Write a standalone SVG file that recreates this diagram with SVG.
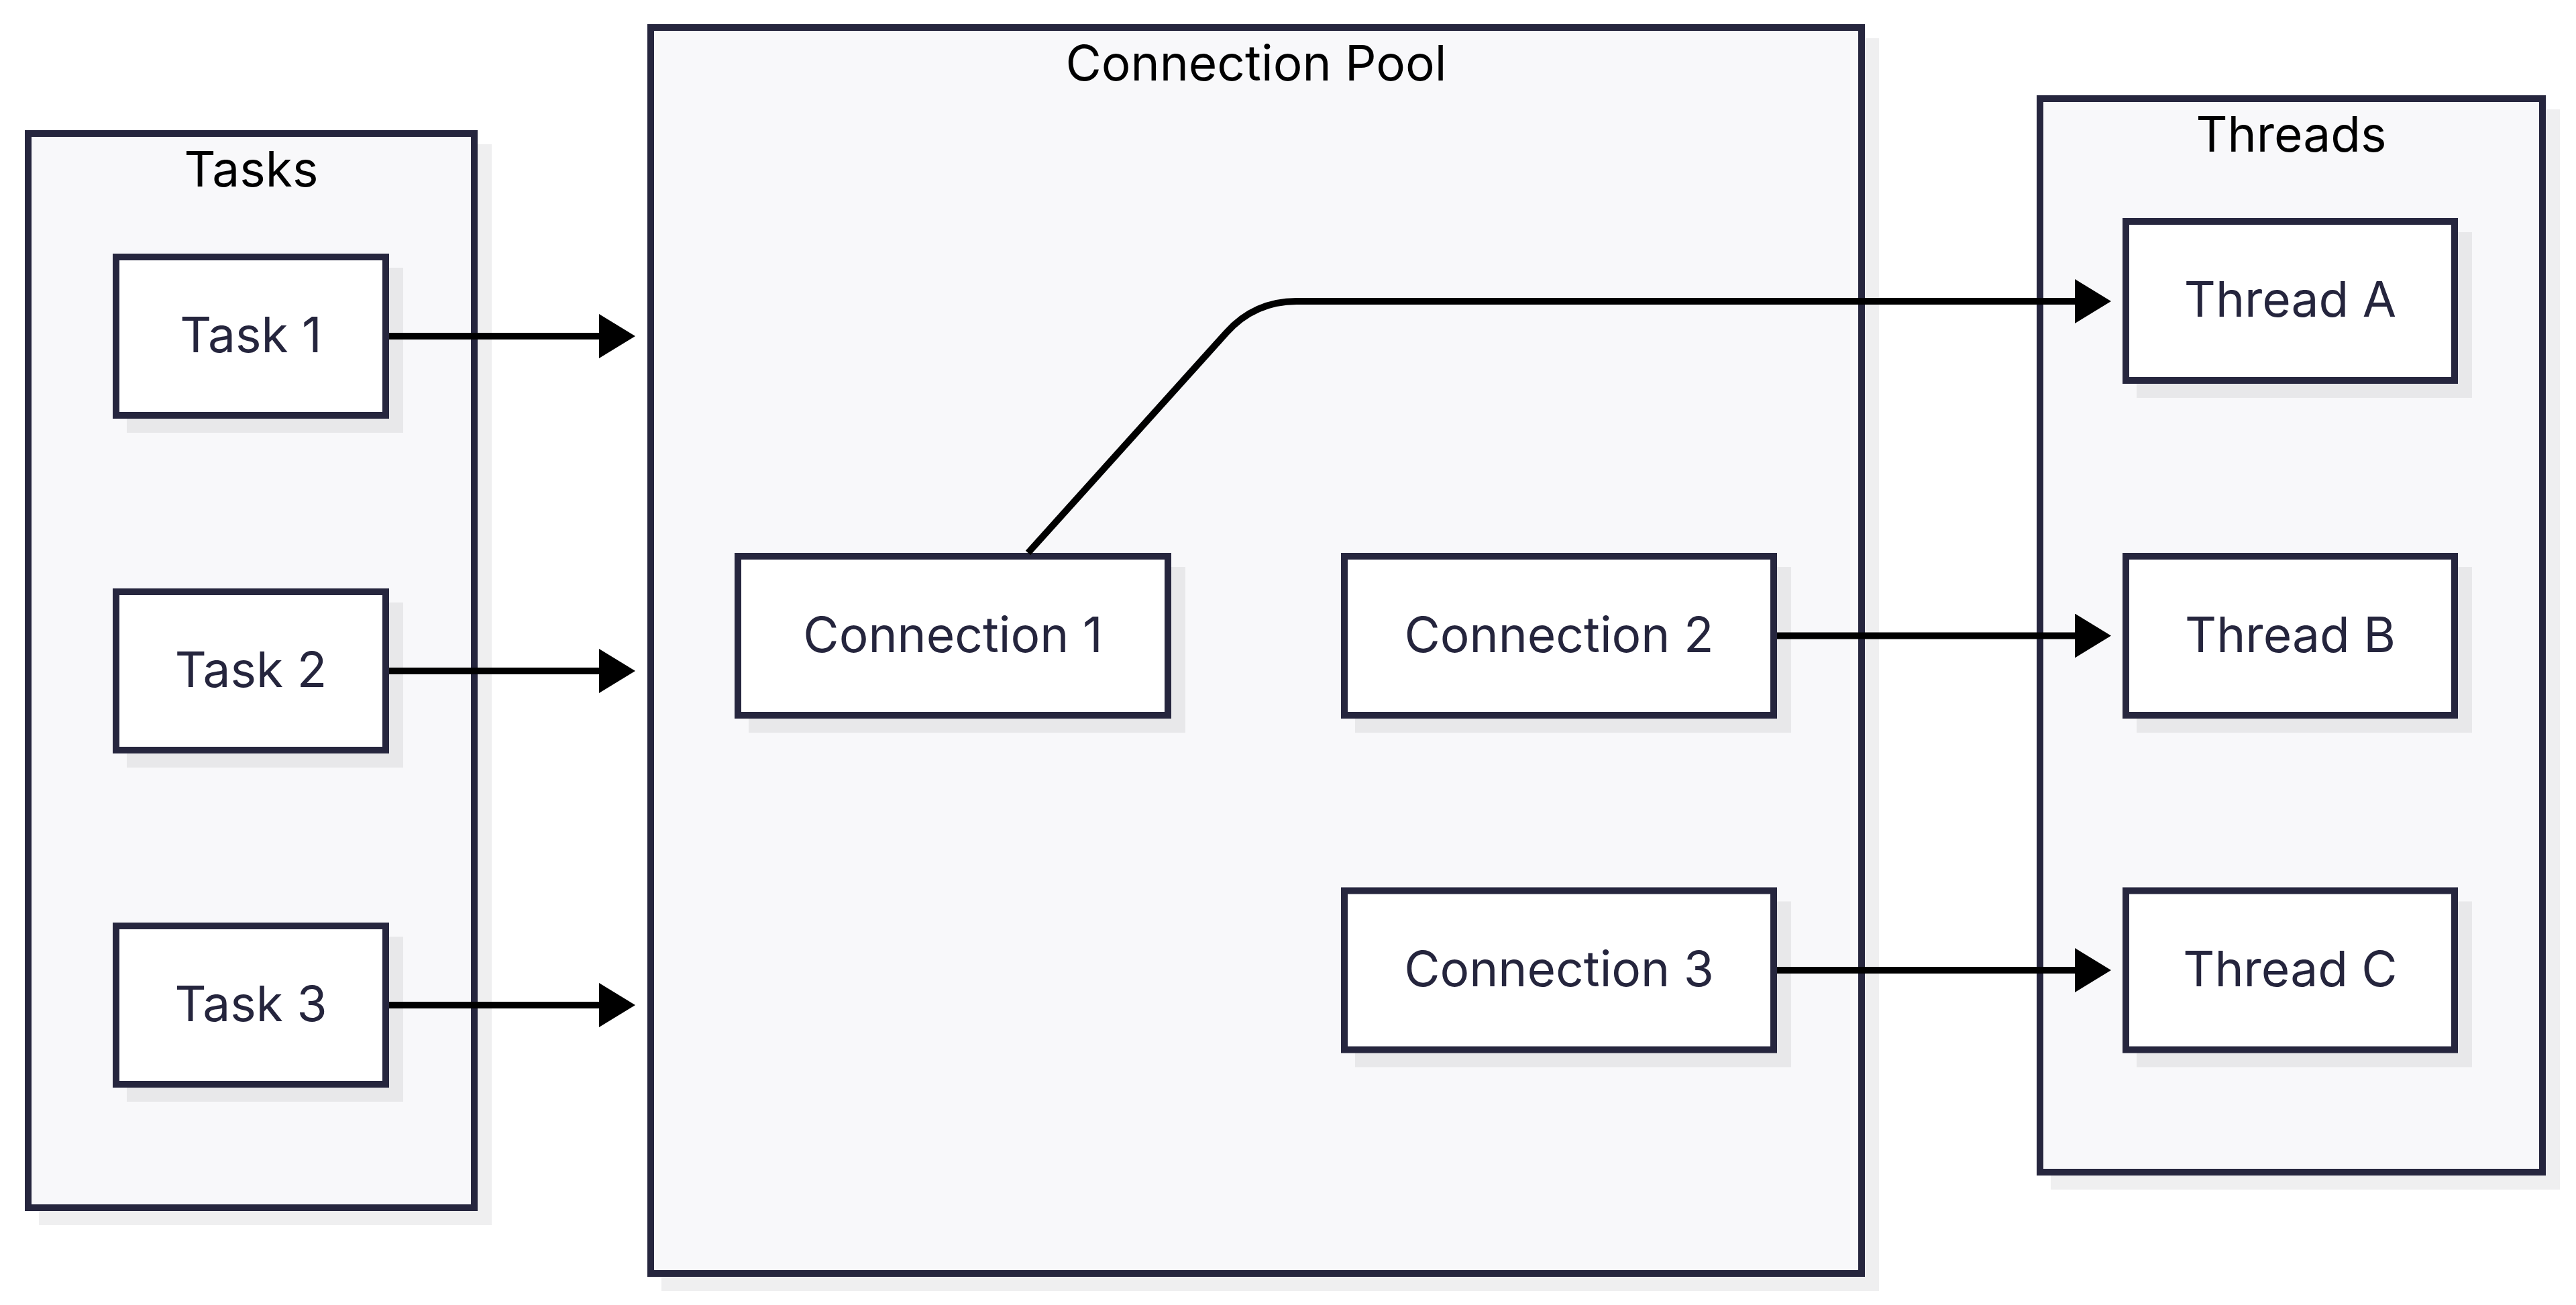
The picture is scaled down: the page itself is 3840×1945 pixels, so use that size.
<svg xmlns="http://www.w3.org/2000/svg" width="3840" height="1945" viewBox="0 0 3840 1945">
<style>
.bg{fill:#ffffff}
.cshadow{fill:#efeff0}
.container{fill:#f8f8fa;stroke:#26263e;stroke-width:10}
.nshadow{fill:#e8e8ea}
.node{fill:#ffffff;stroke:#26263e;stroke-width:10}
.title{font-family:Inter,"Noto Sans","Liberation Sans",sans-serif;font-size:73px;fill:#000000;text-anchor:middle}
.label{font-family:Inter,"Noto Sans","Liberation Sans",sans-serif;font-size:73px;fill:#25253d;text-anchor:middle}
.edge{fill:none;stroke:#000000;stroke-width:10;marker-end:url(#arrow)}
</style>
<defs>
<marker id="arrow" markerUnits="userSpaceOnUse" viewBox="0 0 54 66" markerWidth="54" markerHeight="66" refX="0" refY="33" orient="auto">
<path d="M0,0 L54,33 L0,66 Z" fill="#000000"/>
</marker>
</defs>
<rect class="bg" x="0" y="0" width="3840" height="1945"/>

<g id="tasks">
<rect class="cshadow" x="58" y="215" width="675" height="1611"/>
<rect class="container" x="42" y="199" width="665" height="1601"/>
<text class="title" x="374.5" y="278">Tasks</text>
</g>
<g id="pool">
<rect class="cshadow" x="986" y="57" width="1815" height="1867"/>
<rect class="container" x="970" y="41" width="1805" height="1857"/>
<text class="title" x="1872.5" y="120">Connection Pool</text>
</g>
<g id="threads">
<rect class="cshadow" x="3057" y="163" width="759" height="1610"/>
<rect class="container" x="3041" y="147" width="749" height="1600"/>
<text class="title" x="3415.5" y="226">Threads</text>
</g>

<g id="task1">
<rect class="nshadow" x="189" y="399" width="412" height="246"/>
<rect class="node" x="173" y="383" width="402" height="236"/>
<text class="label" x="374" y="525">Task 1</text>
</g>
<g id="task2">
<rect class="nshadow" x="189" y="898" width="412" height="246"/>
<rect class="node" x="173" y="882" width="402" height="236"/>
<text class="label" x="374" y="1024">Task 2</text>
</g>
<g id="task3">
<rect class="nshadow" x="189" y="1396" width="412" height="246"/>
<rect class="node" x="173" y="1380" width="402" height="236"/>
<text class="label" x="374" y="1522">Task 3</text>
</g>

<g id="conn1">
<rect class="nshadow" x="1116" y="845" width="651" height="247"/>
<rect class="node" x="1100" y="829" width="641" height="237"/>
<text class="label" x="1420.5" y="971.5">Connection 1</text>
</g>
<g id="conn2">
<rect class="nshadow" x="2020" y="845" width="650" height="247"/>
<rect class="node" x="2004" y="829" width="640" height="237"/>
<text class="label" x="2324" y="971.5">Connection 2</text>
</g>
<g id="conn3">
<rect class="nshadow" x="2020" y="1343.5" width="650" height="247"/>
<rect class="node" x="2004" y="1327.5" width="640" height="237"/>
<text class="label" x="2324" y="1470">Connection 3</text>
</g>

<g id="threadA">
<rect class="nshadow" x="3185" y="346" width="500" height="247"/>
<rect class="node" x="3169" y="330" width="490" height="237"/>
<text class="label" x="3414" y="472">Thread A</text>
</g>
<g id="threadB">
<rect class="nshadow" x="3185" y="845" width="500" height="247"/>
<rect class="node" x="3169" y="829" width="490" height="237"/>
<text class="label" x="3414" y="971.5">Thread B</text>
</g>
<g id="threadC">
<rect class="nshadow" x="3185" y="1343.5" width="500" height="247"/>
<rect class="node" x="3169" y="1327.5" width="490" height="237"/>
<text class="label" x="3414" y="1470">Thread C</text>
</g>

<g id="connectors">
<path class="edge" d="M580,501 H893"/>
<path class="edge" d="M580,1000 H893"/>
<path class="edge" d="M580,1498 H893"/>
<path class="edge" d="M1532.5,824 L1828,496 Q1870,449 1933,449 H3093"/>
<path class="edge" d="M2649,947.5 H3093"/>
<path class="edge" d="M2649,1446 H3093"/>
</g>
</svg>
